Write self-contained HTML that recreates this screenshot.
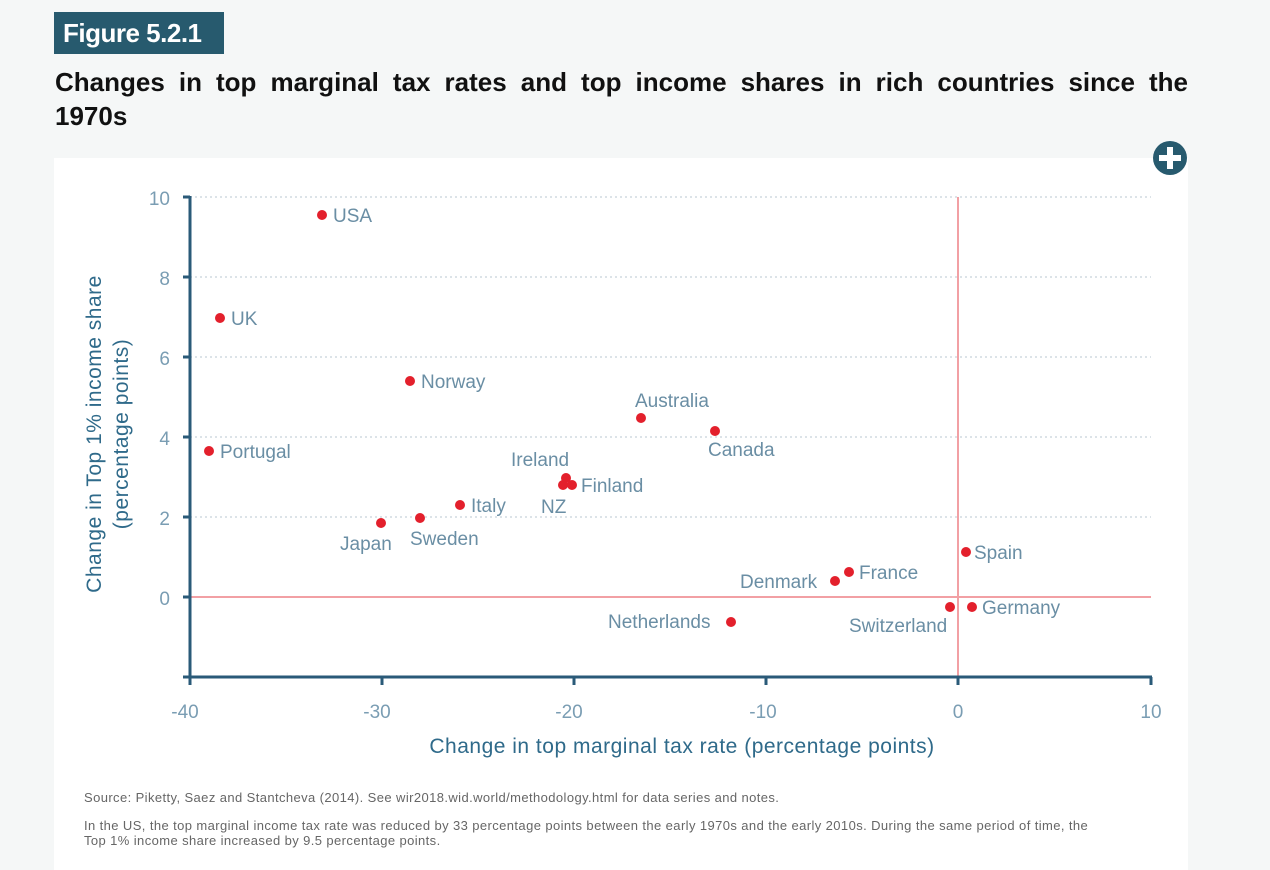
<!DOCTYPE html>
<html><head><meta charset="utf-8"><style>
body{margin:0;width:1270px;height:870px;background:#f5f7f7;font-family:"Liberation Sans",sans-serif;position:relative;overflow:hidden}
.fig{position:absolute;left:54px;top:12px;width:170px;height:42px;background:#275a6e;color:#fff;font-weight:bold;font-size:26px;line-height:42px;text-indent:9px;letter-spacing:-0.5px}
.t1{position:absolute;left:55px;top:66px;width:1133px;font-weight:bold;font-size:26px;line-height:33px;color:#111;text-align:justify;text-align-last:justify}
.t2{position:absolute;left:55px;top:100px;font-weight:bold;font-size:26px;line-height:33px;color:#111}
.panel{position:absolute;left:54px;top:158px;width:1134px;height:712px;background:#fff}
.src{position:absolute;left:84px;font-size:13px;color:#666;line-height:15px;letter-spacing:0.4px}
</style></head><body>
<div class="fig">Figure 5.2.1</div>
<div class="t1">Changes in top marginal tax rates and top income shares in rich countries since the</div>
<div class="t2">1970s</div>
<div class="panel"></div>
<svg style="position:absolute;left:0;top:0" width="1270" height="870" font-family="Liberation Sans, sans-serif">
<circle cx="1170" cy="158" r="17" fill="#275a6e"/>
<rect x="1159" y="155" width="22" height="6" fill="#fff"/><rect x="1167" y="147" width="6" height="22" fill="#fff"/>
<g stroke="#b9c7d0" stroke-dasharray="2,3" stroke-width="1">
<line x1="190" y1="197" x2="1151" y2="197"/><line x1="190" y1="277" x2="1151" y2="277"/>
<line x1="190" y1="357" x2="1151" y2="357"/><line x1="190" y1="437" x2="1151" y2="437"/>
<line x1="190" y1="517" x2="1151" y2="517"/></g>
<line x1="190" y1="597" x2="1151" y2="597" stroke="#f2a0a4" stroke-width="2"/>
<line x1="958" y1="197" x2="958" y2="677" stroke="#f2a0a4" stroke-width="2"/>
<g stroke="#2a5a78" stroke-width="3">
<line x1="190" y1="196" x2="190" y2="678"/><line x1="183" y1="677" x2="1152" y2="677"/>
<line x1="183" y1="197" x2="190" y2="197"/><line x1="183" y1="277" x2="190" y2="277"/><line x1="183" y1="357" x2="190" y2="357"/><line x1="183" y1="437" x2="190" y2="437"/><line x1="183" y1="517" x2="190" y2="517"/><line x1="183" y1="597" x2="190" y2="597"/>
<line x1="190" y1="677" x2="190" y2="685"/><line x1="382" y1="677" x2="382" y2="685"/><line x1="574" y1="677" x2="574" y2="685"/><line x1="766" y1="677" x2="766" y2="685"/><line x1="958" y1="677" x2="958" y2="685"/><line x1="1151" y1="677" x2="1151" y2="685"/>
</g>
<g fill="#7a9db3" font-size="19" text-anchor="end">
<text x="170" y="205">10</text><text x="170" y="285">8</text><text x="170" y="365">6</text><text x="170" y="445">4</text><text x="170" y="525">2</text><text x="170" y="605">0</text></g>
<g fill="#7a9db3" font-size="19" text-anchor="middle">
<text x="185" y="718">-40</text><text x="377" y="718">-30</text><text x="569" y="718">-20</text><text x="763" y="718">-10</text><text x="958" y="718">0</text><text x="1151" y="718">10</text></g>
<text x="682" y="753" fill="#2f6a8a" font-size="21" text-anchor="middle" letter-spacing="0.5">Change in top marginal tax rate (percentage points)</text>
<text transform="translate(101,434) rotate(-90)" fill="#2f6a8a" font-size="21" text-anchor="middle" letter-spacing="0.5">Change in Top 1% income share</text>
<text transform="translate(128,434) rotate(-90)" fill="#2f6a8a" font-size="21" text-anchor="middle" letter-spacing="0.5">(percentage points)</text>
<g fill="#e3202c">
<circle cx="322" cy="215" r="5"/><circle cx="220" cy="318" r="5"/><circle cx="410" cy="381" r="5"/><circle cx="209" cy="451" r="5"/>
<circle cx="641" cy="418" r="5"/><circle cx="715" cy="431" r="5"/><circle cx="566" cy="478" r="5"/><circle cx="563" cy="485" r="5"/><circle cx="572" cy="485" r="5"/>
<circle cx="460" cy="505" r="5"/><circle cx="381" cy="523" r="5"/><circle cx="420" cy="518" r="5"/><circle cx="966" cy="552" r="5"/><circle cx="849" cy="572" r="5"/>
<circle cx="835" cy="581" r="5"/><circle cx="731" cy="622" r="5"/><circle cx="950" cy="607" r="5"/><circle cx="972" cy="607" r="5"/></g>
<g fill="#6a8ea4" font-size="19">
<text x="333" y="222">USA</text><text x="231" y="325">UK</text><text x="421" y="388">Norway</text><text x="220" y="458">Portugal</text>
<text x="635" y="407">Australia</text><text x="708" y="456">Canada</text><text x="511" y="466">Ireland</text><text x="581" y="492">Finland</text>
<text x="541" y="513">NZ</text><text x="471" y="512">Italy</text><text x="340" y="550">Japan</text><text x="410" y="545">Sweden</text>
<text x="974" y="559">Spain</text><text x="859" y="579">France</text><text x="740" y="588">Denmark</text><text x="608" y="628">Netherlands</text>
<text x="849" y="632">Switzerland</text><text x="982" y="614">Germany</text></g>
</svg>
<div class="src" style="top:790px">Source: Piketty, Saez and Stantcheva (2014). See wir2018.wid.world/methodology.html for data series and notes.</div>
<div class="src" style="top:818px;width:1010px">In the US, the top marginal income tax rate was reduced by 33 percentage points between the early 1970s and the early 2010s. During the same period of time, the Top 1% income share increased by 9.5 percentage points.</div>
</body></html>
